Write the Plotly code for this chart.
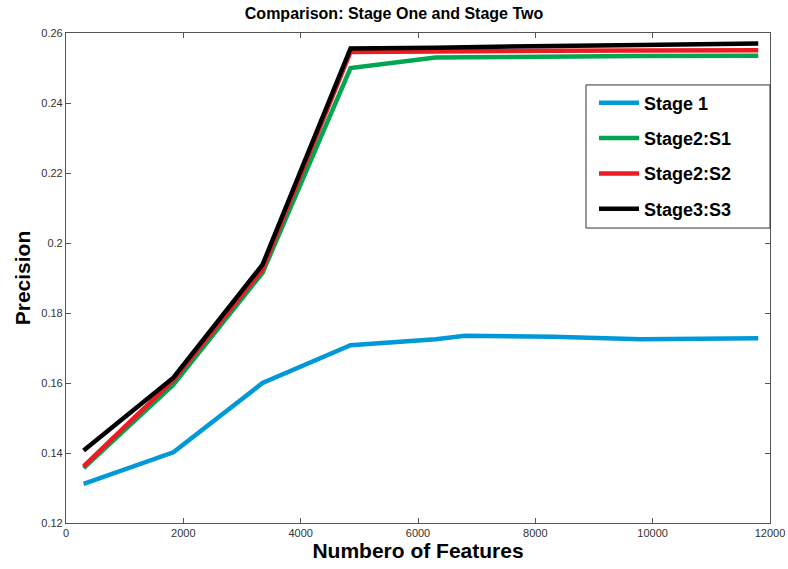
import plotly.graph_objects as go

# Number of features evaluated
features = [300, 1830, 3350, 4850, 6300, 6800, 8300, 9800, 11800]

# Precision per stage
stage1 = [0.1312, 0.1402, 0.1600, 0.1708, 0.1725, 0.1735, 0.1732, 0.1725, 0.1728]
stage2_s1 = [0.1357, 0.1595, 0.1915, 0.2500, 0.2530, 0.2531, 0.2533, 0.2534, 0.2535]
stage2_s2 = [0.1362, 0.1608, 0.1925, 0.2546, 0.2547, 0.2548, 0.2549, 0.2550, 0.2551]
stage3_s3 = [0.1407, 0.1615, 0.1938, 0.2556, 0.2558, 0.2560, 0.2563, 0.2566, 0.2570]

series_names = ["Stage 1", "Stage2:S1", "Stage2:S2", "Stage3:S3"]
series_values = [stage1, stage2_s1, stage2_s2, stage3_s3]
series_colors = ["#0099d8", "#00a651", "#ed1c24", "#000000"]

x_ticks = [0, 2000, 4000, 6000, 8000, 10000, 12000]
y_ticks = [0.12, 0.14, 0.16, 0.18, 0.2, 0.22, 0.24, 0.26]

FONT = "Liberation Sans, Arial"

fig = go.Figure()
for name, vals, col in zip(series_names, series_values, series_colors):
    fig.add_trace(go.Scatter(
        x=features, y=vals, mode="lines", name=f"<b>{name}</b>",
        legendgroup=name,
        line=dict(color=col, width=4.5),
    ))

axis_common = dict(
    showline=True, linecolor="#555555", linewidth=1.2, mirror="ticks",
    ticks="inside", ticklen=5, tickcolor="#555555", showgrid=False,
    zeroline=False, automargin=False,
    tickfont=dict(family=FONT, size=11, color="#333333"),
)

# Framed white panel behind the legend entries
fig.add_shape(
    type="rect", xref="paper", yref="paper",
    x0=0.7386, x1=1.0, y0=0.602, y1=0.894,
    line=dict(color="#333333", width=1), fillcolor="white", layer="above",
)

fig.update_layout(
    width=788, height=569,
    margin=dict(l=66, r=18, t=33, b=46, autoexpand=False),
    paper_bgcolor="white", plot_bgcolor="white",
    title=dict(
        text="<b>Comparison: Stage One and Stage Two</b>",
        x=0.5, xanchor="center", y=0.976, yanchor="middle",
        font=dict(family=FONT, size=16, color="black"),
        automargin=False,
    ),
    xaxis=dict(
        range=[0, 12000], tickvals=x_ticks,
        ticktext=[str(v) for v in x_ticks],
        title=dict(text="<b>Numbero of Features</b>", standoff=2,
                   font=dict(family=FONT, size=21, color="black")),
        **axis_common,
    ),
    yaxis=dict(
        range=[0.12, 0.26], tickvals=y_ticks,
        ticktext=[f"{v:g}" for v in y_ticks],
        title=dict(text="<b>Precision</b>", standoff=4,
                   font=dict(family=FONT, size=21, color="black")),
        **axis_common,
    ),
    legend=dict(
        x=0.75, y=0.895, xanchor="left", yanchor="top",
        bgcolor="rgba(0,0,0,0)", borderwidth=0,
        font=dict(family=FONT, size=18, color="black"),
        itemwidth=40, tracegroupgap=9, traceorder="grouped",
    ),
    showlegend=True,
)

fig.write_html("out.html")
